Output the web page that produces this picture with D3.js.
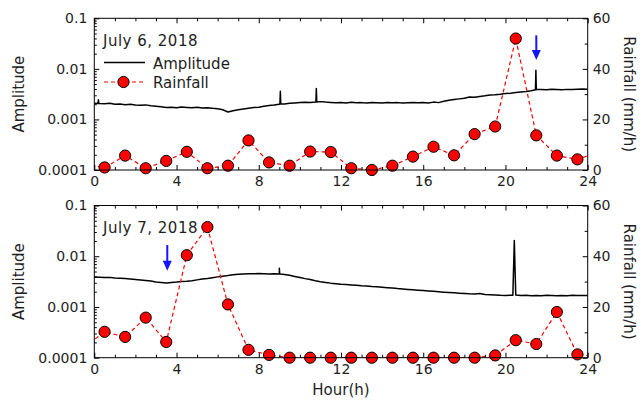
<!DOCTYPE html>
<html><head><meta charset="utf-8">
<script src="https://cdn.jsdelivr.net/npm/d3@7"></script>
<style>
html,body{margin:0;padding:0;background:#fff;}
svg{display:block;font-family:"DejaVu Sans",Verdana,sans-serif;}
</style></head><body>
<svg id="chart" width="640" height="400"></svg>
<script>
// ---------------- data ----------------
const panelTitles = ["July 6, 2018", "July 7, 2018"];
const rainHours = [-0.5,0.5,1.5,2.5,3.5,4.5,5.5,6.5,7.5,8.5,9.5,10.5,11.5,12.5,13.5,14.5,15.5,16.5,17.5,18.5,19.5,20.5,21.5,22.5,23.5,24.5];
const rainJul6 = [2.5,1.0,5.7,0.7,3.6,7.2,0.7,1.7,11.7,3.0,1.7,7.3,7.1,0.7,0.0,1.7,5.3,9.2,5.8,14.2,17.2,52.0,13.7,5.7,4.2,7.0];
const rainJul7 = [4.1,10.2,8.2,15.8,6.2,40.4,51.5,21.0,3.1,1.1,0,0,0,0,0,0,0,0,0,0,0.9,6.9,5.4,18.0,1.3,0.3];

const ampUnit = 1e-3;   // amplitude arrays are in units of 1e-3
const ampStep = 0.25;   // hours between amplitude samples
const ampJul6 = [2.10,2.06,2.05,2.08,2.00,2.03,1.96,1.99,1.93,1.90,1.94,1.86,1.82,1.78,1.72,1.75,
  1.71,1.76,1.73,1.70,1.74,1.69,1.71,1.66,1.62,1.55,1.40,1.48,1.55,1.60,1.66,1.72,
  1.75,1.82,1.88,1.92,2.00,2.03,2.08,2.12,2.15,2.18,2.16,2.22,2.25,2.20,2.17,2.14,
  2.16,2.12,2.18,2.13,2.15,2.11,2.16,2.14,2.12,2.17,2.13,2.15,2.11,2.14,2.17,2.13,
  2.16,2.12,2.20,2.15,2.28,2.40,2.48,2.55,2.62,2.78,2.74,2.85,2.93,3.05,3.08,3.15,
  3.25,3.30,3.42,3.50,3.58,3.70,3.88,3.92,3.88,3.95,3.90,3.86,3.93,3.89,3.96,4.00,3.95];
const ampJul7 = [3.88,3.85,3.80,3.83,3.72,3.68,3.62,3.55,3.48,3.40,3.32,3.25,3.12,3.05,2.98,3.05,
  3.10,3.18,3.22,3.30,3.42,3.55,3.65,3.78,3.92,4.05,4.15,4.30,4.40,4.48,4.52,4.50,
  4.55,4.52,4.48,4.50,4.45,4.35,4.20,4.00,3.80,3.62,3.48,3.30,3.15,3.05,2.95,2.88,
  2.80,2.76,2.72,2.68,2.62,2.58,2.52,2.49,2.45,2.40,2.36,2.30,2.26,2.22,2.18,2.14,
  2.10,2.06,2.03,2.00,1.96,1.93,1.90,1.87,1.85,1.82,1.80,1.84,1.76,1.74,1.72,1.70,
  1.69,1.70,1.72,1.68,1.70,1.66,1.69,1.67,1.70,1.68,1.66,1.69,1.67,1.70,1.68,1.69,1.68];
// short spikes: [hour, amplitude (1e-3)]
const spikesJul6 = [[0.18,2.07],[0.2,2.45],[0.22,2.06],[9.03,2.01],[9.05,3.6],[9.07,2.02],
  [10.78,2.21],[10.8,4.1],[10.82,2.22],[21.46,3.85],[21.48,9.4],[21.52,3.9]];
const spikesJul7 = [[8.98,4.46],[9.0,5.8],[9.02,4.45],[20.36,1.71],[20.43,20.5],[20.5,1.72]];

// blue arrows: hour, start amplitude, tip amplitude
const arrowHours = [21.5, 3.55];
const arrowFrom = [0.046, 0.0166];
const arrowTo = [0.0149, 0.0052];

const hourTicks = [0,4,8,12,16,20,24];
const ampTicks = [0.1,0.01,0.001,0.0001];
const ampTickLabels = ["0.1","0.01","0.001","0.0001"];
const rainTicks = [0,20,40,60];
const rainMinorTicks = [10,30,50];

// ---------------- layout ----------------
const svg = d3.select("#chart");
const X0 = 94.3, X1 = 587.7;
const panels = [
  {top: 18.3, bottom: 170, rain: rainJul6, amp: ampJul6, spikes: spikesJul6},
  {top: 205.5, bottom: 357.7, rain: rainJul7, amp: ampJul7, spikes: spikesJul7}
];
const x = d3.scaleLinear([0,24],[X0,X1]);
const textColor = "#1e1e1e";
const minorLog = [];
[-4,-3,-2].forEach(k => { for (let m = 2; m <= 9; m++) minorLog.push(m * Math.pow(10,k)); });
const minorHours = d3.range(0,25).filter(h => h % 4 !== 0);

panels.forEach((p, pi) => {
  const yA = d3.scaleLog([1e-4,0.1],[p.bottom,p.top]);
  const yR = d3.scaleLinear([0,60],[p.bottom,p.top]);
  const g = svg.append("g");
  const clipId = "clip" + pi;
  svg.append("clipPath").attr("id", clipId).append("rect")
    .attr("x", X0).attr("y", p.top).attr("width", X1 - X0).attr("height", p.bottom - p.top);

  // amplitude
  const ampPts = p.amp.map((v,i) => [i*ampStep, v*ampUnit])
    .concat(p.spikes.map(s => [s[0], s[1]*ampUnit]))
    .sort((a,b) => a[0]-b[0]);
  g.append("path").datum(ampPts)
    .attr("clip-path", `url(#${clipId})`)
    .attr("fill","none").attr("stroke","#000").attr("stroke-width",1.5)
    .attr("stroke-linejoin","round")
    .attr("d", d3.line().x(d => x(d[0])).y(d => yA(d[1])));

  // rainfall
  const rainPts = rainHours.map((h,i) => [h, p.rain[i]]);
  g.append("path").datum(rainPts)
    .attr("clip-path", `url(#${clipId})`)
    .attr("fill","none").attr("stroke","#ff0000").attr("stroke-width",1.2)
    .attr("stroke-dasharray","4,3")
    .attr("d", d3.line().x(d => x(d[0])).y(d => yR(d[1])));
  g.selectAll("circle.rain").data(rainPts.filter(d => d[0] >= 0 && d[0] <= 24))
    .join("circle").attr("class","rain")
    .attr("cx", d => x(d[0])).attr("cy", d => yR(d[1])).attr("r", 5.6)
    .attr("fill","#ff0000").attr("stroke","#000").attr("stroke-width",1);

  // arrow
  const ax = x(arrowHours[pi]), ay0 = yA(arrowFrom[pi]), ay1 = yA(arrowTo[pi]);
  g.append("line").attr("x1",ax).attr("x2",ax).attr("y1",ay0).attr("y2",ay1-8)
    .attr("stroke","#1414ff").attr("stroke-width",2);
  g.append("path").attr("fill","#1414ff")
    .attr("d", `M${ax-4.5},${ay1-10} L${ax+4.5},${ay1-10} L${ax},${ay1} Z`);

  // axes
  const styleAxis = sel => {
    sel.select(".domain").remove();
    sel.selectAll("line").attr("stroke","#000");
    sel.selectAll("text").attr("fill", textColor).style("font-size","14px")
      .style("font-family",'"DejaVu Sans",Verdana,sans-serif');
  };
  g.append("g").attr("transform",`translate(${X0},0)`)
    .call(d3.axisLeft(yA).tickValues(ampTicks).tickFormat((d,i) => ampTickLabels[i])
      .tickSizeInner(-5).tickSizeOuter(0).tickPadding(7)).call(styleAxis);
  g.append("g").attr("transform",`translate(${X0},0)`)
    .call(d3.axisLeft(yA).tickValues(minorLog).tickFormat("").tickSizeInner(-2.5).tickSizeOuter(0)).call(styleAxis);
  g.append("g").attr("transform",`translate(${X1},0)`)
    .call(d3.axisRight(yR).tickValues(rainTicks).tickSizeInner(-5).tickSizeOuter(0).tickPadding(5)).call(styleAxis);
  g.append("g").attr("transform",`translate(${X1},0)`)
    .call(d3.axisRight(yR).tickValues(rainMinorTicks).tickFormat("").tickSizeInner(-3).tickSizeOuter(0)).call(styleAxis);
  g.append("g").attr("transform",`translate(0,${p.bottom})`)
    .call(d3.axisBottom(x).tickValues(hourTicks).tickSizeInner(-5).tickSizeOuter(0).tickPadding(6)).call(styleAxis);
  g.append("g").attr("transform",`translate(0,${p.bottom})`)
    .call(d3.axisBottom(x).tickValues(minorHours).tickFormat("").tickSizeInner(-3).tickSizeOuter(0)).call(styleAxis);
  g.append("g").attr("transform",`translate(0,${p.top})`)
    .call(d3.axisTop(x).tickValues(hourTicks).tickFormat("").tickSizeInner(-5).tickSizeOuter(0)).call(styleAxis);
  g.append("g").attr("transform",`translate(0,${p.top})`)
    .call(d3.axisTop(x).tickValues(minorHours).tickFormat("").tickSizeInner(-3).tickSizeOuter(0)).call(styleAxis);

  // frame
  g.append("rect").attr("x",X0).attr("y",p.top).attr("width",X1-X0).attr("height",p.bottom-p.top)
    .attr("fill","none").attr("stroke","#000").attr("stroke-width",1);

  // titles
  g.append("text").attr("x",103).attr("y",p.top + 27.2).attr("fill",textColor)
    .style("font-size","15px").style("letter-spacing","0.5px").text(panelTitles[pi]);
  const midY = (p.top + p.bottom) / 2;
  g.append("text").attr("transform",`translate(24,${midY}) rotate(-90)`).attr("text-anchor","middle")
    .attr("fill",textColor).style("font-size","15px").text("Amplitude");
  g.append("text").attr("transform",`translate(624,${midY}) rotate(90)`).attr("text-anchor","middle")
    .attr("fill",textColor).style("font-size","15px").text("Rainfall (mm/h)");
});

// legend (top panel)
const lg = svg.append("g");
lg.append("line").attr("x1",104).attr("x2",145).attr("y1",62.5).attr("y2",62.5)
  .attr("stroke","#000").attr("stroke-width",1.3);
lg.append("text").attr("x",153).attr("y",68.5).attr("fill",textColor).style("font-size","15px").text("Amplitude");
lg.append("line").attr("x1",104).attr("x2",145).attr("y1",82).attr("y2",82)
  .attr("stroke","#ff0000").attr("stroke-width",1.2).attr("stroke-dasharray","4,3");
lg.append("circle").attr("cx",123.5).attr("cy",82).attr("r",5.6)
  .attr("fill","#ff0000").attr("stroke","#000").attr("stroke-width",1);
lg.append("text").attr("x",153).attr("y",87.5).attr("fill",textColor).style("font-size","15px").text("Rainfall");

// x axis title
svg.append("text").attr("x",(X0+X1)/2).attr("y",395).attr("text-anchor","middle")
  .attr("fill",textColor).style("font-size","15px").text("Hour(h)");
</script>
</body></html>
